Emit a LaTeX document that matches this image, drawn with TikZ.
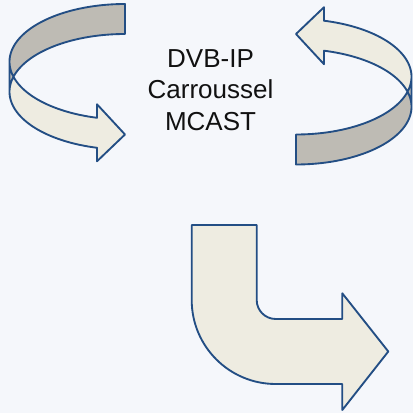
\documentclass[tikz,border=0pt]{standalone}
\usepackage{fontspec}
\setmainfont{Liberation Sans}
\definecolor{pagebg}{HTML}{F5F7FB}
\definecolor{bandlight}{HTML}{EEECE1}
\definecolor{bandshade}{HTML}{BEBBB4}
\definecolor{edgeblue}{HTML}{234E84}
\definecolor{inkcol}{HTML}{111111}

% Curved ribbon arrow in local units: width 115.5, band 30, half-height 57.75
\newcommand{\ribbonarrow}{%
  % lower (light) band with the arrow head
  \fill[lightpart] (0,57.75)
    -- plot[domain=180:104.03] ({115.5+115.5*cos(\x)},{57.75+57.75*sin(\x)})
    -- (87.5,100.28) -- (115.5,130.5) -- (87.5,157.28) -- (87.5,143.78)
    -- plot[domain=104.03:180] ({115.5+115.5*cos(\x)},{87.75+57.75*sin(\x)})
    -- cycle;
  % upper (shaded) band
  \fill[shadepart]
    plot[domain=270:180] ({115.5+115.5*cos(\x)},{57.75+57.75*sin(\x)})
    -- plot[domain=180:270] ({115.5+115.5*cos(\x)},{87.75+57.75*sin(\x)})
    -- cycle;
  % outline
  \draw[outline] (0,57.75)
    -- plot[domain=180:104.03] ({115.5+115.5*cos(\x)},{57.75+57.75*sin(\x)})
    -- (87.5,100.28) -- (115.5,130.5) -- (87.5,157.28) -- (87.5,143.78)
    -- plot[domain=104.03:180] ({115.5+115.5*cos(\x)},{87.75+57.75*sin(\x)})
    -- (0,57.75)
    -- plot[domain=180:270] ({115.5+115.5*cos(\x)},{57.75+57.75*sin(\x)})
    -- (115.5,30)
    -- plot[domain=270:180] ({115.5+115.5*cos(\x)},{87.75+57.75*sin(\x)});
}

\begin{document}
\begin{tikzpicture}[x=0.75pt,y=-0.75pt,
  outline/.style={draw=edgeblue,line width=1.4pt,line join=round},
  lightpart/.style={fill=bandlight},
  shadepart/.style={fill=bandshade},
  lbl/.style={text=inkcol,inner sep=0pt,font=\fontsize{19.5pt}{23.4pt}\selectfont},
  smooth, samples=60]
  \useasboundingbox (0,0) rectangle (413,413);
  \fill[pagebg] (0,0) rectangle (413,413);

  % left ribbon arrow (turning down to the right)
  \begin{scope}[shift={(9.5,4)}]
    \ribbonarrow
  \end{scope}

  % right ribbon arrow (same shape turned half round)
  \begin{scope}[rotate around={180:(210.5,84.25)}]
    \begin{scope}[shift={(9.5,4)}]
      \ribbonarrow
    \end{scope}
  \end{scope}

  % bent arrow at the bottom
  \draw[outline,fill=bandlight]
    (191.7,225) -- (256.7,225) -- (256.7,300)
    .. controls (256.7,310.5) and (265.2,319) .. (275.7,319)
    -- (342.3,319) -- (342.3,293.3) -- (388.3,351.5) -- (342.3,410)
    -- (342.3,384) -- (275.7,384)
    .. controls (229.3,384) and (191.7,346.4) .. (191.7,300)
    -- cycle;

  % caption in the middle
  \node[lbl,anchor=base] (line1) at (210.5,67.7) {DVB-IP};
  \node[lbl,anchor=base] (line2) at (210.5,99) {Carroussel};
  \node[lbl,anchor=base] (line3) at (210.5,130.3) {MCAST};
\end{tikzpicture}
\end{document}
